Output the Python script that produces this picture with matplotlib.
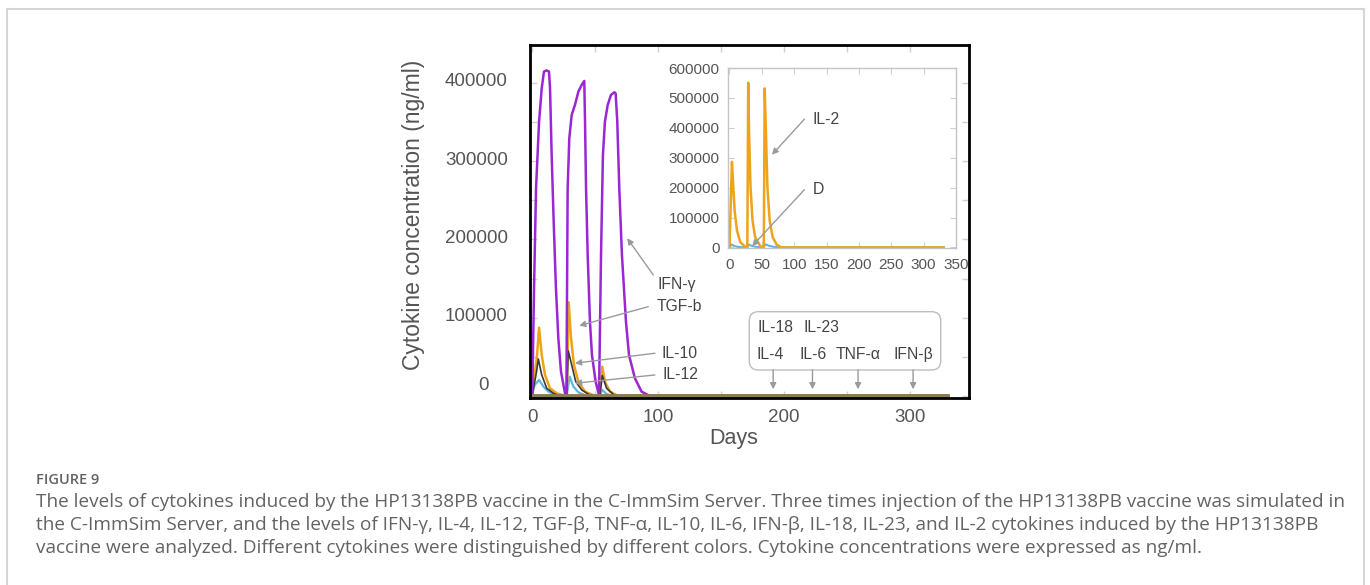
import matplotlib
matplotlib.use("Agg")
import matplotlib.pyplot as plt
import matplotlib.transforms as mtransforms
from matplotlib.patches import FancyBboxPatch
from matplotlib.lines import Line2D
from matplotlib.ticker import MultipleLocator

plt.rcParams['font.family'] = ['Liberation Sans', 'DejaVu Sans']

# ---- cytokine levels (ng/ml) as (day, value) pairs ----
ifng = [(0, 0), (0.2, 0), (1.6, 137600), (3.2, 265400), (5.6, 350600), (7.7, 393200), (9.5, 414500),
        (11.5, 416000), (13.5, 414500), (14.3, 393200), (15.6, 308000), (17.2, 222800), (19.0, 137600),
        (20.9, 73700), (23.0, 31100), (26.2, 3400), (27.3, 0),
        (28.3, 265400), (29.6, 329300), (31.5, 359100), (34.1, 371900), (36.8, 388900), (39.4, 397400),
        (41.5, 402600), (42.1, 350600), (42.9, 265400), (44.2, 180200), (46.0, 95000), (47.6, 52400),
        (50.5, 18300), (53.2, 1000),
        (54.8, 180200), (56.3, 308000), (57.9, 350600), (60.1, 371900), (62.7, 384700), (65.4, 388100),
        (66.4, 386700), (67.7, 350600), (69.3, 265400), (71.4, 180200), (74.6, 95000), (77.0, 52400),
        (81.7, 22600), (87.0, 5500), (92.3, 1000), (98, 0), (330, 0)]

tgfb = [(0, 0), (4.0, 52400), (5.6, 87300), (7.7, 52400), (10.3, 26800), (14.3, 9800), (19.6, 3400),
        (26.5, 0), (27.6, 0), (29.1, 119700), (31.0, 73700), (33.3, 39600), (36.8, 18300), (42.1, 5500),
        (50, 0), (53.8, 0), (55.8, 37500), (57.9, 18300), (61.9, 5500), (68.5, 0), (330, 0)]

il10 = [(0, 0), (3.5, 30000), (5.0, 47300), (7.7, 26800), (11.7, 9800), (17, 3400), (22, 0),
        (27.5, 0), (28.8, 57500), (31.5, 39600), (34.7, 18300), (39.4, 7700), (47, 0),
        (53.8, 0), (55.8, 26000), (59.2, 9800), (66, 0), (330, 0)]

il12 = [(0, 0), (2.1, 14000), (5.6, 20400), (9.0, 12100), (13, 5500), (19.6, 0),
        (27.5, 0), (29.9, 24700), (32.8, 12100), (36.8, 4700), (43.4, 0),
        (53.8, 0), (55.8, 7700), (59.2, 2500), (64, 0), (330, 0)]

# IL-18, IL-23, IL-4, IL-6, TNF-a, IFN-b stay flat at zero
others = [(0, 0), (330, 0)]

# inset: IL-2 and danger signal D
il2 = [(0, 0), (3.8, 286000), (5.9, 202000), (7.9, 124000), (11.5, 57000), (16.6, 18000), (23.3, 4000),
       (26.8, 0), (27.6, 0), (28.9, 551000), (30.4, 370000), (32.5, 202000), (35.6, 90000), (39.6, 34500),
       (47.2, 5600), (50.4, 0), (53.0, 0), (54.4, 532000), (56.5, 370000), (58.6, 202000), (62.1, 90000),
       (66.7, 34500), (72.9, 9000), (80.5, 0), (331, 0)]

danger = [(0, 0), (2.9, 10000), (6, 6000), (12, 2000), (20, 500), (27, 0), (29.6, 10000), (33, 6000),
          (40, 2000), (50, 0), (56.3, 10000), (60, 6000), (68, 2000), (80, 0), (331, 0)]

box_rows = [["IL-18", "IL-23"], ["IL-4", "IL-6", "TNF-α", "IFN-β"]]
box_row_x = [[178.8, 215.9], [178.6, 212.1, 241.3, 287.3]]
box_arrow_x = [191.5, 222.7, 258.9, 302.6]

c_ifng = '#9b26d4'
c_orange = '#eea31b'
c_il10 = '#3a3a3a'
c_il12 = '#5db6e6'
c_other = '#8b7b52'
c_text = '#555555'
c_arrow = '#9a9a9a'


def xy(pairs):
    return [p[0] for p in pairs], [p[1] for p in pairs]


fig = plt.figure(figsize=(13.7, 5.85), dpi=100)

# page frame around the figure block
frame_kw = dict(transform=fig.transFigure, color='#d6d6d6', lw=1.5)
fig.add_artist(Line2D([7 / 1370, 7 / 1370], [0, 1 - 9 / 585], **frame_kw))
fig.add_artist(Line2D([7 / 1370, 1364 / 1370], [1 - 9 / 585, 1 - 9 / 585], **frame_kw))
fig.add_artist(Line2D([1364 / 1370, 1364 / 1370], [0, 1 - 9 / 585], **frame_kw))

# ---- main axes ----
ax = fig.add_axes([529.5 / 1370, 1 - 397.5 / 585, 439.5 / 1370, 352.5 / 585])
ax.plot(*xy(il12), color=c_il12, lw=1.6)
ax.plot(*xy(tgfb), color=c_orange, lw=1.8)
ax.plot(*xy(il10), color=c_il10, lw=1.2)
ax.plot(*xy(ifng), color=c_ifng, lw=1.8)
ax.plot(*xy(others), color=c_other, lw=2.8)

ax.set_xlim(-2, 347)
ax.set_ylim(-2000, 448500)
ax.xaxis.set_major_locator(MultipleLocator(100))
ax.xaxis.set_minor_locator(MultipleLocator(50))
ax.yaxis.set_minor_locator(MultipleLocator(50000))
ax.set_yticks([0, 100000, 200000, 300000, 400000], ['', '100000', '200000', '300000', '400000'])
ax.tick_params(which='both', direction='in', top=True, right=True, color='#d0d0d0', length=5, width=1)
ax.tick_params(axis='x', labelsize=13.5, labelcolor=c_text, pad=8.5)
ax.tick_params(axis='y', labelsize=13.5, labelcolor=c_text, pad=15.5)
for sp in ax.spines.values():
    sp.set_color('black')
    sp.set_linewidth(2)

# y labels sit a few pixels above their ticks
for lbl in ax.get_yticklabels():
    lbl.set_transform(lbl.get_transform() + mtransforms.ScaledTranslation(0, 3 / 100, fig.dpi_scale_trans))
fig.text(483 / 1370, 1 - 385 / 585, '0', ha='center', va='center', fontsize=13.5, color=c_text)

ax.set_ylabel('Cytokine concentration (ng/ml)', fontsize=16.5, color='#555555', va='center')
ax.yaxis.set_label_coords(-0.265, 0.518)
ax.set_xlabel('Days', fontsize=15.5, color='#555555')
ax.xaxis.label.set_va('center')
ax.xaxis.set_label_coords(0.465, -0.115)

arrow_kw = dict(arrowstyle='-|>', color=c_arrow, lw=1, mutation_scale=9, shrinkA=0, shrinkB=0)
lab_kw = dict(fontsize=11.3, color='#444444', va='center', ha='left')
ax.text(100, 142000, 'IFN-γ', **lab_kw)
ax.annotate('', xy=(75.6, 201500), xytext=(96.3, 154600), arrowprops=arrow_kw)
ax.text(99.2, 114000, 'TGF-b', **lab_kw)
ax.annotate('', xy=(37.5, 89800), xytext=(92.3, 114100), arrowprops=arrow_kw)
ax.text(103.2, 54600, 'IL-10', **lab_kw)
ax.annotate('', xy=(34.1, 41800), xytext=(97.6, 54600), arrowprops=arrow_kw)
ax.text(104, 27700, 'IL-12', **lab_kw)
ax.annotate('', xy=(34.1, 16200), xytext=(97.6, 26800), arrowprops=arrow_kw)

# grouped label box for the cytokines that stay near zero
box = FancyBboxPatch((749.3 / 100, (585 - 370) / 100), (940.7 - 749.3) / 100, (370 - 311.7) / 100,
                     boxstyle='round,pad=0,rounding_size=0.09', transform=fig.dpi_scale_trans,
                     facecolor='white', edgecolor='#bdbdbd', lw=1, zorder=3)
ax.add_artist(box)
for row, xs, yv in zip(box_rows, box_row_x, [87800, 52400]):
    for name, xv in zip(row, xs):
        ax.text(xv, yv, name, zorder=4, **lab_kw)
for xv in box_arrow_x:
    ax.annotate('', xy=(xv, 8500), xytext=(xv, 33200), arrowprops=arrow_kw)

# ---- inset: IL-2 ----
ins = fig.add_axes([728 / 1370, 1 - 248 / 585, 228 / 1370, 180 / 585])
ins.plot(*xy(danger), color=c_il12, lw=1.5)
ins.plot(*xy(il2), color=c_orange, lw=1.8)
ins.set_xlim(-2.3, 347.4)
ins.set_ylim(-2000, 600000)
ins.set_xticks(range(0, 351, 50))
ins.set_yticks(range(0, 600001, 100000))
ins.tick_params(direction='in', top=True, right=True, color='#cfcfcf', length=4,
                labelsize=11, labelcolor=c_text)
ins.tick_params(axis='y', pad=6)
ins.tick_params(axis='x', pad=7)
for sp in ins.spines.values():
    sp.set_color('#c4c4c4')
    sp.set_linewidth(1)
ins.text(128, 426700, 'IL-2', **lab_kw)
ins.annotate('', xy=(65.6, 310000), xytext=(115.8, 429000), arrowprops=arrow_kw)
ins.text(128, 193300, 'D', **lab_kw)
ins.annotate('', xy=(35, 4300), xytext=(115.8, 193300), arrowprops=arrow_kw)

# ---- caption ----
cap_kw = dict(family=['Open Sans', 'DejaVu Sans'], color='#636363', ha='left', va='center')
fig.text(36 / 1370, 1 - 480 / 585, 'FIGURE 9', fontsize=10.5, weight='semibold', **cap_kw)
caption = [
    "The levels of cytokines induced by the HP13138PB vaccine in the C-ImmSim Server. Three times injection of the HP13138PB vaccine was simulated in",
    "the C-ImmSim Server, and the levels of IFN-γ, IL-4, IL-12, TGF-β, TNF-α, IL-10, IL-6, IFN-β, IL-18, IL-23, and IL-2 cytokines induced by the HP13138PB",
    "vaccine were analyzed. Different cytokines were distinguished by different colors. Cytokine concentrations were expressed as ng/ml.",
]
for i, line in enumerate(caption):
    fig.text(36 / 1370, 1 - (501.7 + 23.3 * i) / 585, line, fontsize=13.7, **cap_kw)

fig.savefig('out.png', dpi=100)
